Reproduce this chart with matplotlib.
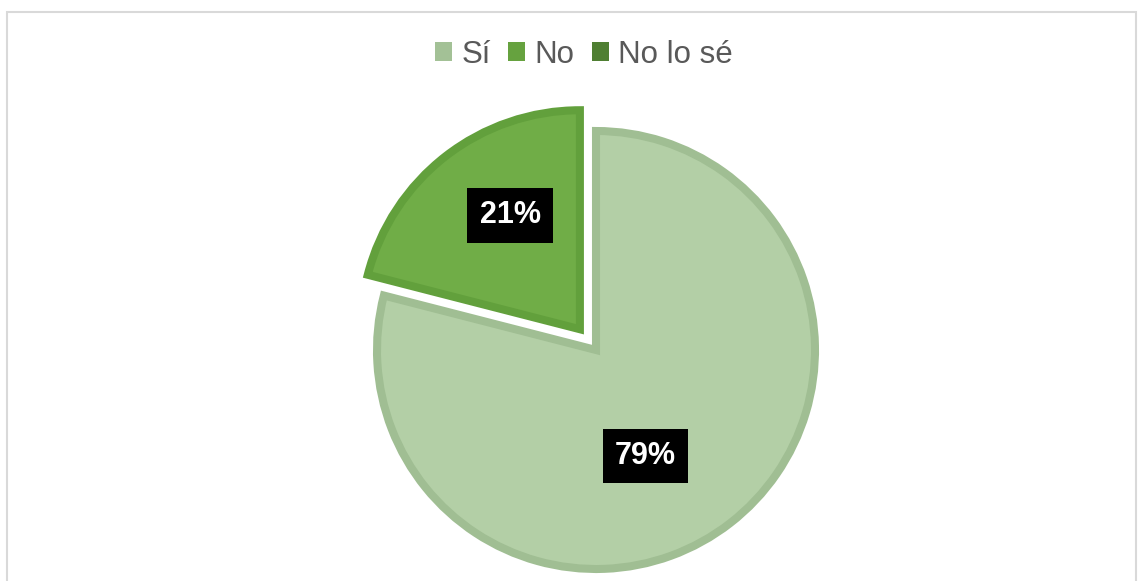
import numpy as np
import matplotlib
matplotlib.use("Agg")
import matplotlib.pyplot as plt
from matplotlib.patches import Rectangle

categories = ["Sí", "No", "No lo sé"]
values = [79, 21, 0]
fill_colors = ["#B3CFA6", "#70AD47", "#548235"]
edge_colors = ["#A0BE93", "#62A03C", "#4A752E"]
legend_colors = ["#A3C196", "#66A23F", "#4F7F32"]

plt.rcParams['font.family'] = ['Liberation Sans', 'DejaVu Sans']

W, H = 1138, 581
fig = plt.figure(figsize=(W/100, H/100), dpi=100)
ax = fig.add_axes([0, 0, 1, 1])

# outer chart frame
fig.patches.append(Rectangle((6.5/W, -0.1), (1136 - 6.5)/W, (H - 11.5)/H + 0.1,
                             transform=fig.transFigure, fill=False,
                             edgecolor="#D9D9D9", linewidth=1.5))

R = 219
wedges, texts = ax.pie(
    values, colors=fill_colors, startangle=90, counterclock=False,
    explode=[0, 0.12 * R, 0], center=(596, 231), radius=R,
    wedgeprops=dict(linewidth=5.8, joinstyle='miter'),
    frame=True)
for w, ec, v in zip(wedges, edge_colors, values):
    w.set_edgecolor(ec)
    if v == 0:
        w.set_linewidth(0)
ax.set_xlim(0, W)
ax.set_ylim(0, H)
ax.axis('off')

# data labels (Excel-like placement inside each slice)
label_dist = [0.535, 0.61, 0.5]
label_rot = [-13, -6.3, 0]
label_pad = [8.5, 9]
for i, (w, v, d, rot) in enumerate(zip(wedges, values, label_dist, label_rot)):
    if v <= 0:
        continue
    a = np.deg2rad(0.5 * (w.theta1 + w.theta2) + rot)
    cx, cy = w.center
    ax.text(cx + d * w.r * np.cos(a), cy + d * w.r * np.sin(a), f"{v}%",
            ha='center', va='center', color='white', fontsize=22, fontweight='bold',
            bbox=dict(facecolor='black', edgecolor='none', pad=label_pad[i]))

handles = [Rectangle((0, 0), 1, 1, facecolor=c, edgecolor='none') for c in legend_colors]
leg = ax.legend(handles, categories, loc='upper center', bbox_to_anchor=(0.513, 0.98),
                ncol=3, frameon=False, fontsize=22.5, handlelength=0.55, handleheight=0.55,
                handletextpad=0.3, columnspacing=0.55, labelcolor="#595959")

fig.savefig("out.png", dpi=100)
